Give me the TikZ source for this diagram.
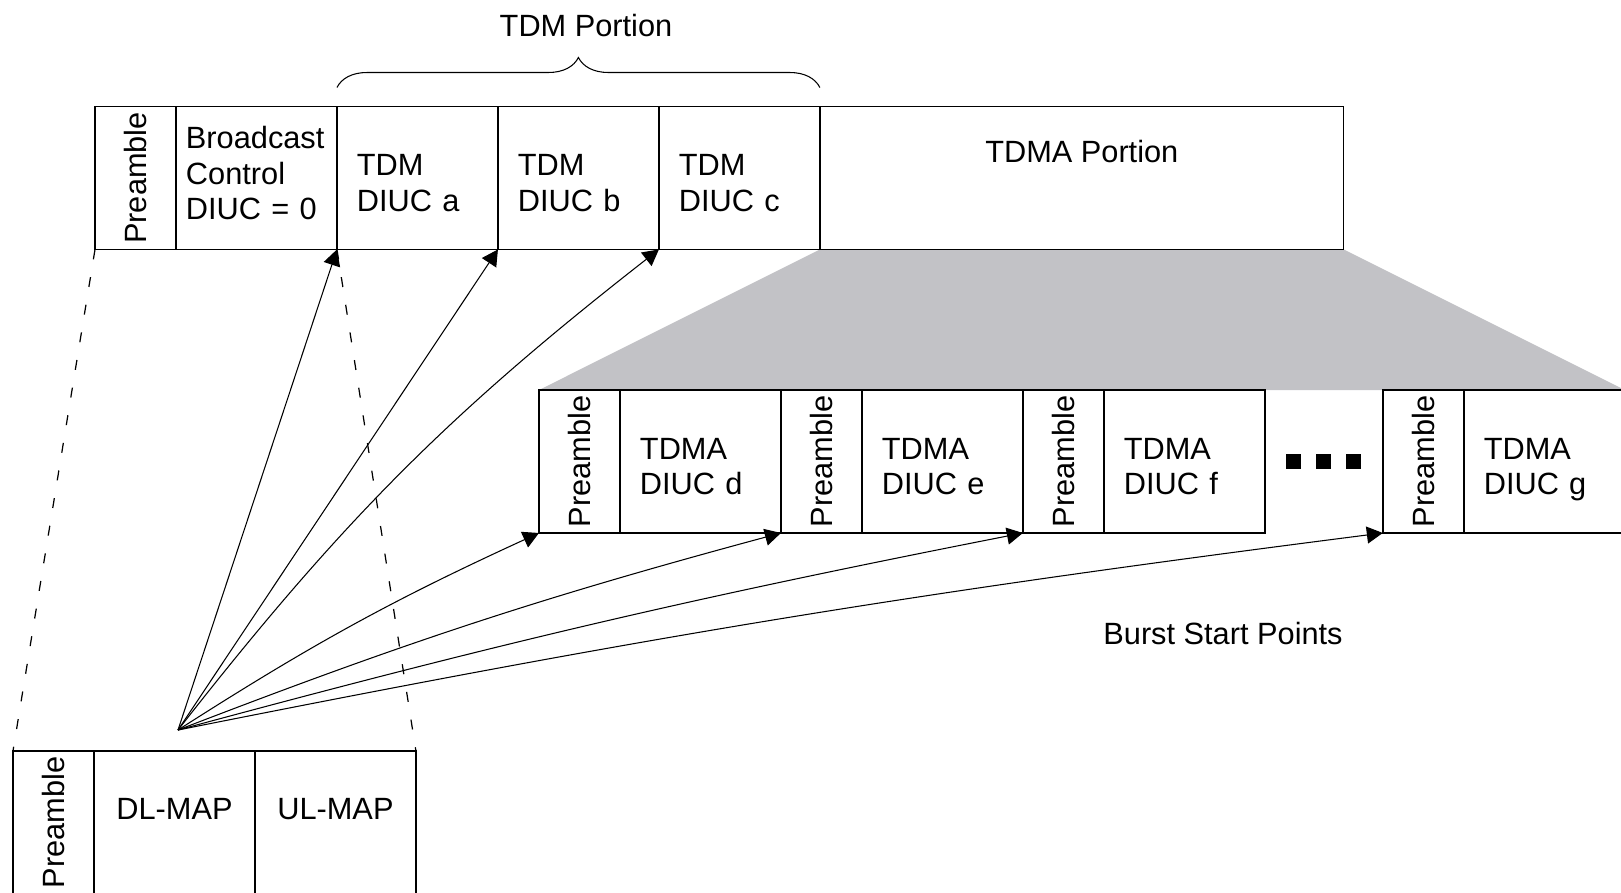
\documentclass[tikz,border=0pt]{standalone}
\usepackage{fontspec}
\setmainfont{Liberation Sans}
\usepackage{xcolor}
\usetikzlibrary{positioning, arrows.meta, decorations.pathreplacing, backgrounds}
\definecolor{zoomgray}{RGB}{194,194,198}

\begin{document}
\begin{tikzpicture}[x=0.02cm, y=-0.02cm,
                  font=\fontsize{17.5pt}{20pt}\selectfont,
                  slot/.style={rectangle,draw,line width=0.8pt,outer sep=0pt,inner sep=0pt,
                    minimum height=2.86cm},
                  pre/.style={slot,minimum width=1.62cm},
                  txtcell/.style={slot,align=left},
                  cell/.style={txtcell,text width=2.42cm,inner xsep=0.4cm,
                    execute at begin node={\rule{0pt}{0.76cm}},
                    execute at end node={\rule[-0.14cm]{0pt}{0.14cm}}},
                  dot/.style={rectangle,fill=black,inner sep=0pt,minimum size=0.3cm},
                  post/.style={-{Triangle[length=0.32cm,width=0.34cm]},line width=0.6pt},
                  zoomline/.style={line width=0.7pt,dash pattern=on 0.2cm off 0.36cm}
                  ]
                  \useasboundingbox (0,0) rectangle (1621,892);
                  % frame
                  \node[pre, anchor=north west] (pA) at (95,106.5) {\rotatebox{90}{Preamble}\hspace{0.45cm}};
                  \node[txtcell, text width=2.82cm, inner xsep=0.2cm, right=0pt of pA,
                    execute at end node={\rule[-0.2cm]{0pt}{0.2cm}}] (bcast)
                    {Broadcast\\Control\\DIUC = 0};
                  \node[cell, right=0pt of bcast] (tdmA) {TDM\\DIUC a};
                  \node[cell, right=0pt of tdmA] (tdmB) {TDM\\DIUC b};
                  \node[cell, right=0pt of tdmB] (tdmC) {TDM\\DIUC c};
                  \node[slot, minimum width=10.48cm, right=0pt of tdmC] (tdma) {};
                  \node (tdmalbl) at ([yshift=-0.91cm]tdma.north) {TDMA Portion};
                  \draw[decorate, decoration={brace, amplitude=0.6cm}, line width=0.6pt]
                    ([yshift=0.38cm]tdmA.north west) -- ([yshift=0.38cm]tdmC.north east);
                  \node (tdmlbl) at (586,26) {TDM Portion};
                  % TDMA bursts
                  \node[pre, anchor=north west] (pD) at (539,390) {\rotatebox{90}{Preamble}\hspace{0.45cm}};
                  \node[cell, right=0pt of pD] (diucD) {TDMA\\DIUC d};
                  \node[pre, right=0pt of diucD] (pE) {\rotatebox{90}{Preamble}\hspace{0.45cm}};
                  \node[cell, right=0pt of pE] (diucE) {TDMA\\DIUC e};
                  \node[pre, right=0pt of diucE] (pF) {\rotatebox{90}{Preamble}\hspace{0.45cm}};
                  \node[cell, right=0pt of pF] (diucF) {TDMA\\DIUC f};
                  \foreach \i in {0,1,2}
                    \node[dot, xshift={0.58cm+\i*0.6cm}] (dot\i) at (diucF.east) {};
                  \node[pre, right=2.36cm of diucF] (pG) {\rotatebox{90}{Preamble}\hspace{0.45cm}};
                  \node[cell, right=0pt of pG] (diucG) {TDMA\\DIUC g};
                  \begin{scope}[on background layer]
                    \fill[zoomgray] (tdma.south west) -- (tdma.south east)
                      -- (diucG.north east) -- (pD.north west) -- cycle;
                  \end{scope}
                  % maps
                  \node[pre, anchor=north west] (pM) at (13,751) {\rotatebox{90}{Preamble}\hspace{0.45cm}};
                  \node[slot, minimum width=3.22cm, right=0pt of pM] (dlmap) {};
                  \node[slot, minimum width=3.22cm, right=0pt of dlmap] (ulmap) {};
                  \node (dltxt) at ([yshift=-1.16cm]dlmap.north) {DL-MAP};
                  \node (ultxt) at ([yshift=-1.16cm]ulmap.north) {UL-MAP};
                  \draw[zoomline] (pA.south west) -- (pM.north west);
                  \draw[zoomline] (bcast.south east) -- (ulmap.north east);
                  % burst start points
                  \coordinate (src) at (178,730);
                  \path (src) edge [post] (tdmA.south west)
                              edge [post] (tdmB.south west)
                              edge [post, bend left=7] (tdmC.south west)
                              edge [post, bend left=4] (pD.south west)
                              edge [post, bend left=3] (pE.south west)
                              edge [post, bend left=2] (pF.south west)
                              edge [post, bend left=2] (pG.south west);
                  \node (burstlbl) at (1223,634) {Burst Start Points};
                \end{tikzpicture}
\end{document}
